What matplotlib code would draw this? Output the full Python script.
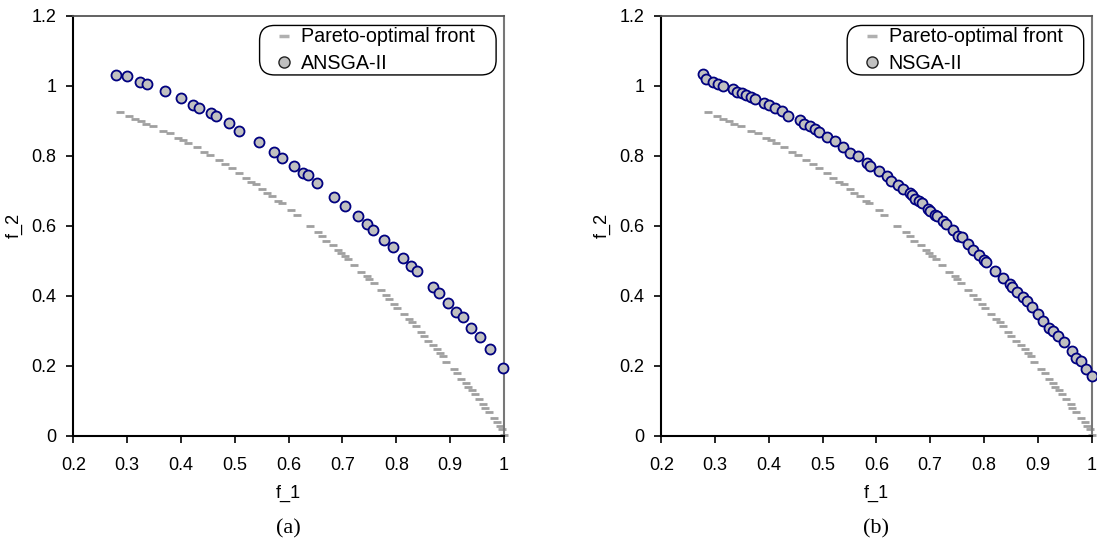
import matplotlib
matplotlib.use("Agg")
import matplotlib.pyplot as plt
from matplotlib.lines import Line2D
from matplotlib.patches import FancyBboxPatch
from matplotlib.transforms import IdentityTransform

plt.rcParams["font.family"] = ["Liberation Sans", "DejaVu Sans"]

# Pareto-optimal front (shared by both panels)
pareto_f1 = [0.287, 0.304, 0.315, 0.326, 0.336, 0.349, 0.366, 0.380, 0.395, 0.404,
             0.414, 0.429, 0.443, 0.454, 0.470, 0.482, 0.494, 0.508, 0.520, 0.531,
             0.540, 0.550, 0.559, 0.569, 0.581, 0.587, 0.604, 0.615, 0.639, 0.655,
             0.662, 0.670, 0.683, 0.692, 0.698, 0.704, 0.710, 0.722, 0.735, 0.746,
             0.749, 0.758, 0.771, 0.780, 0.787, 0.796, 0.802, 0.814, 0.823, 0.830,
             0.836, 0.845, 0.851, 0.859, 0.868, 0.876, 0.882, 0.887, 0.893, 0.907,
             0.913, 0.921, 0.929, 0.933, 0.940, 0.946, 0.953, 0.961, 0.964, 0.972,
             0.981, 0.987, 0.992, 0.997, 1.000]
pareto_f2 = [0.925, 0.914, 0.906, 0.898, 0.891, 0.885, 0.871, 0.864, 0.851, 0.844,
             0.836, 0.826, 0.812, 0.803, 0.788, 0.777, 0.764, 0.751, 0.736, 0.726,
             0.719, 0.706, 0.695, 0.684, 0.672, 0.665, 0.646, 0.632, 0.600, 0.581,
             0.571, 0.558, 0.545, 0.531, 0.522, 0.514, 0.505, 0.489, 0.468, 0.457,
             0.448, 0.438, 0.416, 0.402, 0.391, 0.376, 0.365, 0.349, 0.335, 0.326,
             0.314, 0.297, 0.286, 0.271, 0.260, 0.249, 0.238, 0.227, 0.212, 0.192,
             0.181, 0.162, 0.151, 0.141, 0.131, 0.119, 0.105, 0.092, 0.081, 0.069,
             0.052, 0.040, 0.029, 0.019, 0.003]

# (a) ANSGA-II final population
ansga_f1 = [0.279, 0.299, 0.324, 0.337, 0.370, 0.400, 0.423, 0.433, 0.456, 0.465,
            0.489, 0.508, 0.545, 0.572, 0.588, 0.610, 0.627, 0.636, 0.652, 0.684,
            0.704, 0.728, 0.745, 0.756, 0.778, 0.793, 0.812, 0.827, 0.839, 0.869,
            0.879, 0.896, 0.911, 0.923, 0.938, 0.955, 0.974, 0.998]
ansga_f2 = [1.032, 1.029, 1.011, 1.004, 0.986, 0.965, 0.944, 0.936, 0.921, 0.913,
            0.893, 0.872, 0.839, 0.811, 0.794, 0.771, 0.751, 0.744, 0.723, 0.682,
            0.658, 0.628, 0.604, 0.589, 0.559, 0.539, 0.509, 0.485, 0.471, 0.424,
            0.407, 0.380, 0.353, 0.339, 0.309, 0.282, 0.248, 0.193]

# (b) NSGA-II final population
nsga_f1 = [0.278, 0.283, 0.297, 0.306, 0.315, 0.333, 0.340, 0.350, 0.358, 0.366,
           0.374, 0.391, 0.400, 0.411, 0.424, 0.436, 0.458, 0.465, 0.477, 0.485,
           0.494, 0.508, 0.523, 0.537, 0.551, 0.566, 0.582, 0.589, 0.604, 0.619,
           0.628, 0.641, 0.650, 0.662, 0.666, 0.672, 0.679, 0.684, 0.696, 0.700,
           0.709, 0.713, 0.724, 0.729, 0.742, 0.752, 0.759, 0.770, 0.780, 0.791,
           0.801, 0.804, 0.821, 0.835, 0.848, 0.852, 0.862, 0.872, 0.880, 0.889,
           0.900, 0.910, 0.921, 0.929, 0.938, 0.949, 0.963, 0.972, 0.980, 0.990,
           1.000]
nsga_f2 = [1.034, 1.019, 1.012, 1.005, 0.998, 0.991, 0.982, 0.978, 0.973, 0.968,
           0.963, 0.951, 0.944, 0.937, 0.927, 0.913, 0.902, 0.892, 0.884, 0.876,
           0.869, 0.855, 0.841, 0.826, 0.809, 0.798, 0.779, 0.771, 0.757, 0.741,
           0.729, 0.716, 0.705, 0.693, 0.687, 0.676, 0.671, 0.665, 0.648, 0.643,
           0.631, 0.627, 0.614, 0.606, 0.588, 0.571, 0.567, 0.549, 0.531, 0.516,
           0.503, 0.496, 0.472, 0.451, 0.433, 0.424, 0.411, 0.396, 0.384, 0.367,
           0.349, 0.329, 0.309, 0.300, 0.286, 0.269, 0.244, 0.222, 0.213, 0.191,
           0.172]

x_ticks = [0.2, 0.3, 0.4, 0.5, 0.6, 0.7, 0.8, 0.9, 1.0]
x_ticklabels = ["0.2", "0.3", "0.4", "0.5", "0.6", "0.7", "0.8", "0.9", "1"]
y_ticks = [0, 0.2, 0.4, 0.6, 0.8, 1.0, 1.2]
y_ticklabels = ["0", "0.2", "0.4", "0.6", "0.8", "1", "1.2"]

fig = plt.figure(figsize=(10.97, 5.54), dpi=100)
ax_a = fig.add_axes([0.0668, 0.213, 0.3926, 0.7587])
ax_b = fig.add_axes([0.6028, 0.213, 0.3922, 0.7587])


def draw_panel(ax, f1, f2, name, caption):
    ax.plot(pareto_f1, pareto_f2, linestyle="none", marker="_", markersize=5.5,
            markeredgewidth=2.0, color="#a0a0a0", clip_on=False, zorder=2)
    ax.plot(f1, f2, linestyle="none", marker="o", markersize=7.2,
            markerfacecolor="#c0c0c0", markeredgecolor="#000080",
            markeredgewidth=1.3, clip_on=False, zorder=3)
    ax.set_xlim(0.2, 1.0)
    ax.set_ylim(0, 1.2)
    ax.set_xticks(x_ticks)
    ax.set_xticklabels(x_ticklabels, fontsize=13)
    ax.set_yticks(y_ticks)
    ax.set_yticklabels(y_ticklabels, fontsize=13)
    ax.tick_params(direction="out", length=5, width=1.2, colors="black")
    ax.tick_params(axis="x", pad=10)
    ax.tick_params(axis="y", pad=7)
    ax.set_xlabel("f_1", fontsize=13, labelpad=8)
    ax.set_ylabel("f_2", fontsize=13, labelpad=6)
    for side in ["left", "bottom"]:
        ax.spines[side].set_color("black")
        ax.spines[side].set_linewidth(1.5)
    ax.spines["top"].set_color("#555555")
    ax.spines["right"].set_color("#777777")
    ax.spines["top"].set_linewidth(1.3)
    ax.spines["right"].set_linewidth(1.5)

    handles = [
        Line2D([], [], linestyle="none", marker="_", markersize=7,
               markeredgewidth=2.5, color="#b0b0b0"),
        Line2D([], [], linestyle="none", marker="o", markersize=8,
               markerfacecolor="#c0c0c0", markeredgecolor="#222222",
               markeredgewidth=1.0),
    ]
    leg = ax.legend(handles, ["Pareto-optimal front", name], loc="upper right",
                    bbox_to_anchor=(0.933, 0.972), fontsize=14.2,
                    handlelength=0.8, handletextpad=0.45, labelspacing=0.38,
                    borderpad=0.0, borderaxespad=0.0, frameon=False)

    ax.text(0.5, -0.22, caption, transform=ax.transAxes, ha="center",
            va="center", fontsize=16, family="Liberation Serif")
    return leg


legends = [draw_panel(ax_a, ansga_f1, ansga_f2, "ANSGA-II", "(a)"),
           draw_panel(ax_b, nsga_f1, nsga_f2, "NSGA-II", "(b)")]

# rounded frame around each legend, wider at the sides than top/bottom
fig.canvas.draw()
renderer = fig.canvas.get_renderer()
for leg in legends:
    bb = leg.get_window_extent(renderer)
    x0, y0 = bb.x0 - 17, bb.y0 - 2
    x1, y1 = bb.x1 + 21, bb.y1 + 2
    box = FancyBboxPatch((x0, y0), x1 - x0, y1 - y0,
                         boxstyle="round,pad=0,rounding_size=15",
                         transform=IdentityTransform(), facecolor="white",
                         edgecolor="black", linewidth=1.0, zorder=4)
    fig.patches.append(box)
    leg.remove()
    leg.set_zorder(5)
    fig.legends.append(leg)
    leg.set_figure(fig)

fig.savefig("out.png", dpi=100)
